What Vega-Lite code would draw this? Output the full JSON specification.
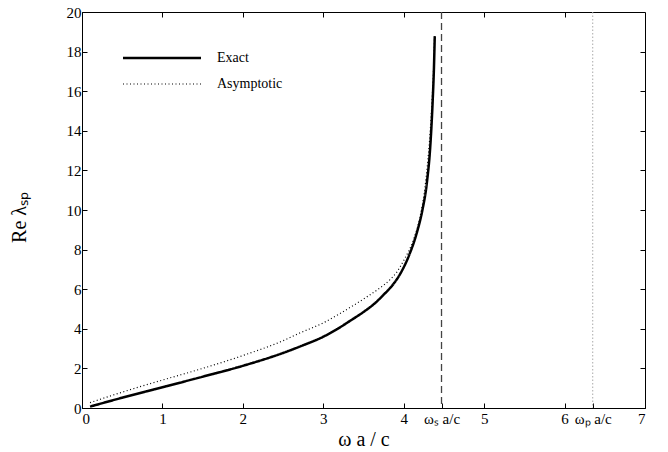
{
  "$schema": "https://vega.github.io/schema/vega-lite/v6.json",
  "width": 563,
  "height": 396,
  "autosize": {"type": "none"},
  "padding": {"left": 82, "top": 12, "right": 23, "bottom": 44},
  "background": "white",
  "config": {
    "view": {"stroke": "black", "strokeWidth": 1},
    "axis": {
      "labelFont": "Times New Roman",
      "titleFont": "Times New Roman",
      "labelFontSize": 15,
      "titleFontSize": 20,
      "labelColor": "black",
      "titleColor": "black",
      "domainColor": "black",
      "tickColor": "black",
      "tickSize": -5,
      "tickWidth": 1,
      "domainWidth": 1,
      "grid": false,
      "titleFontWeight": "normal",
      "labelOverlap": false
    },
    "legend": {
      "labelFont": "Times New Roman",
      "labelFontSize": 14,
      "labelColor": "black"
    }
  },
  "datasets": {
    "curves": [
      {"w": 0.1, "v": 0.07, "series": "Exact"},
      {"w": 0.5, "v": 0.52, "series": "Exact"},
      {"w": 1.0, "v": 1.05, "series": "Exact"},
      {"w": 1.5, "v": 1.58, "series": "Exact"},
      {"w": 2.0, "v": 2.13, "series": "Exact"},
      {"w": 2.5, "v": 2.78, "series": "Exact"},
      {"w": 2.75, "v": 3.17, "series": "Exact"},
      {"w": 3.0, "v": 3.6, "series": "Exact"},
      {"w": 3.17, "v": 3.98, "series": "Exact"},
      {"w": 3.34, "v": 4.42, "series": "Exact"},
      {"w": 3.5, "v": 4.85, "series": "Exact"},
      {"w": 3.63, "v": 5.25, "series": "Exact"},
      {"w": 3.75, "v": 5.72, "series": "Exact"},
      {"w": 3.86, "v": 6.2, "series": "Exact"},
      {"w": 3.96, "v": 6.8, "series": "Exact"},
      {"w": 4.08, "v": 7.85, "series": "Exact"},
      {"w": 4.17, "v": 8.95, "series": "Exact"},
      {"w": 4.23, "v": 9.95, "series": "Exact"},
      {"w": 4.29, "v": 11.45, "series": "Exact"},
      {"w": 4.33, "v": 13.2, "series": "Exact"},
      {"w": 4.36, "v": 15.5, "series": "Exact"},
      {"w": 4.376, "v": 17.2, "series": "Exact"},
      {"w": 4.386, "v": 18.78, "series": "Exact"},
      {"w": 0.1, "v": 0.27, "series": "Asymptotic"},
      {"w": 0.5, "v": 0.8, "series": "Asymptotic"},
      {"w": 1.0, "v": 1.41, "series": "Asymptotic"},
      {"w": 1.5, "v": 2.0, "series": "Asymptotic"},
      {"w": 2.0, "v": 2.65, "series": "Asymptotic"},
      {"w": 2.5, "v": 3.4, "series": "Asymptotic"},
      {"w": 2.715, "v": 3.8, "series": "Asymptotic"},
      {"w": 3.0, "v": 4.3, "series": "Asymptotic"},
      {"w": 3.17, "v": 4.68, "series": "Asymptotic"},
      {"w": 3.35, "v": 5.12, "series": "Asymptotic"},
      {"w": 3.545, "v": 5.62, "series": "Asymptotic"},
      {"w": 3.7, "v": 6.05, "series": "Asymptotic"},
      {"w": 3.835, "v": 6.5, "series": "Asymptotic"},
      {"w": 3.92, "v": 6.9, "series": "Asymptotic"},
      {"w": 4.0, "v": 7.45, "series": "Asymptotic"},
      {"w": 4.12, "v": 8.48, "series": "Asymptotic"},
      {"w": 4.2, "v": 9.6, "series": "Asymptotic"},
      {"w": 4.26, "v": 11.0, "series": "Asymptotic"},
      {"w": 4.3, "v": 12.5, "series": "Asymptotic"},
      {"w": 4.33, "v": 14.0, "series": "Asymptotic"},
      {"w": 4.352, "v": 15.5, "series": "Asymptotic"},
      {"w": 4.37, "v": 17.0, "series": "Asymptotic"},
      {"w": 4.383, "v": 18.78, "series": "Asymptotic"}
    ]
  },
  "resolve": {"axis": {"x": "independent", "y": "independent"}},
  "layer": [
    {
      "data": {"values": [{"w": 4.47}]},
      "mark": {"type": "rule", "color": "#444444", "strokeDash": [7, 4], "strokeWidth": 1.3},
      "encoding": {
        "x": {"field": "w", "type": "quantitative", "scale": {"domain": [0, 7], "nice": false}, "axis": null}
      }
    },
    {
      "data": {"values": [{"w": 6.35}]},
      "mark": {"type": "rule", "color": "#aaaaaa", "strokeDash": [1.5, 2], "strokeWidth": 1},
      "encoding": {
        "x": {"field": "w", "type": "quantitative", "axis": null}
      }
    },
    {
      "data": {"name": "curves"},
      "mark": {"type": "line", "color": "black", "interpolate": "monotone"},
      "encoding": {
        "x": {
          "field": "w", "type": "quantitative",
          "scale": {"domain": [0, 7], "nice": false},
          "axis": {
            "orient": "bottom",
            "title": "ω a / c",
            "values": [0, 1, 2, 3, 4, 4.47, 5, 6, 6.35, 7],
            "labelExpr": "abs(datum.value-4.47)<0.001 ? 'ωₛ a/c' : abs(datum.value-6.35)<0.001 ? 'ωₚ a/c' : format(datum.value,'d')",
            "labelPadding": 8,
            "titlePadding": 3
          }
        },
        "y": {
          "field": "v", "type": "quantitative",
          "scale": {"domain": [0, 20], "nice": false},
          "axis": {
            "orient": "left",
            "title": "Re λₛₚ",
            "values": [0, 2, 4, 6, 8, 10, 12, 14, 16, 18, 20],
            "labelPadding": 6,
            "titlePadding": 37,
            "titleY": 205
          }
        },
        "order": {"field": "w", "type": "quantitative"},
        "strokeDash": {
          "field": "series", "type": "nominal",
          "scale": {"domain": ["Exact", "Asymptotic"], "range": [[1, 0], [1, 2.5]]},
          "legend": {
            "title": null,
            "orient": "none",
            "legendX": 73,
            "legendY": 39,
            "symbolType": "M-39,0H39",
            "symbolSize": 4,
            "labelOffset": 48,
            "rowPadding": 12
          }
        },
        "strokeWidth": {
          "field": "series", "type": "nominal",
          "scale": {"domain": ["Exact", "Asymptotic"], "range": [2.5, 1.2]},
          "legend": {
            "title": null,
            "orient": "none",
            "legendX": 73,
            "legendY": 39,
            "symbolType": "M-39,0H39",
            "symbolSize": 4,
            "labelOffset": 48,
            "rowPadding": 12
          }
        }
      }
    },
    {
      "data": {"name": "curves"},
      "mark": {"type": "point", "opacity": 0},
      "encoding": {
        "x": {
          "field": "w", "type": "quantitative",
          "axis": {"orient": "top", "title": null, "labels": false, "values": [1, 2, 3, 4, 5, 6], "domain": false}
        },
        "y": {
          "field": "v", "type": "quantitative",
          "axis": {"orient": "right", "title": null, "labels": false, "values": [2, 4, 6, 8, 10, 12, 14, 16, 18], "domain": false}
        }
      }
    }
  ]
}
